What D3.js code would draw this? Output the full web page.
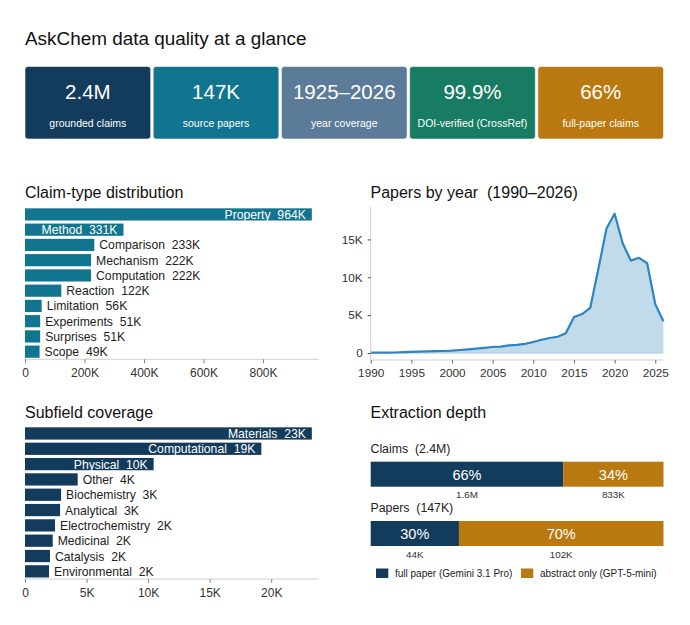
<!DOCTYPE html>
<html>
<head>
<meta charset="utf-8">
<script src="https://cdn.jsdelivr.net/npm/d3@7"></script>
<style>
  html, body { margin: 0; padding: 0; background: #fff; }
  svg { display: block; font-family: "Liberation Sans", Arial, Helvetica, sans-serif; }
  text { white-space: pre; }
</style>
</head>
<body>
<svg id="chart" width="690" height="625"></svg>
<script>
// ---------------- DATA ----------------
const cardValues = ["2.4M", "147K", "1925\u20132026", "99.9%", "66%"];
const cardLabels = ["grounded claims", "source papers", "year coverage", "DOI-verified (CrossRef)", "full-paper claims"];
const cardColors = ["#133b5c", "#12758f", "#5b7b99", "#187c63", "#b97810"];

const claimTypes = ["Property", "Method", "Comparison", "Mechanism", "Computation", "Reaction", "Limitation", "Experiments", "Surprises", "Scope"];
const claimCounts = [964000, 331000, 233000, 222000, 222000, 122000, 56000, 51000, 51000, 49000];
const claimTicks = [0, 200000, 400000, 600000, 800000];

const subfields = ["Materials", "Computational", "Physical", "Other", "Biochemistry", "Analytical", "Electrochemistry", "Medicinal", "Catalysis", "Environmental"];
const subfieldCounts = [23300, 19200, 10450, 4280, 2930, 2850, 2440, 2250, 2030, 1950];
const subfieldTicks = [0, 5000, 10000, 15000, 20000];

const years = [1990, 1991, 1992, 1993, 1994, 1995, 1996, 1997, 1998, 1999,
               2000, 2001, 2002, 2003, 2004, 2005, 2006, 2007, 2008, 2009,
               2010, 2011, 2012, 2013, 2014, 2015, 2016, 2017, 2018, 2019,
               2020, 2021, 2022, 2023, 2024, 2025, 2026];
const papersPerYear = [50, 55, 60, 70, 110, 150, 180, 210, 240, 270,
                       320, 400, 480, 570, 680, 800, 850, 1020, 1080, 1200,
                       1450, 1750, 1980, 2150, 2600, 4750, 5150, 5950, 11100, 16450,
                       18400, 14450, 12200, 12570, 11850, 6450, 4200];
const yearTicks = [1990, 1995, 2000, 2005, 2010, 2015, 2020, 2025];
const paperTicks = [0, 5000, 10000, 15000];

const depthGroups = ["Claims", "Papers"];
const depthTotals = ["2.4M", "147K"];
const fullCounts = [1600000, 44000];
const abstractCounts = [833000, 102000];
const depthLegend = ["full paper (Gemini 3.1 Pro)", "abstract only (GPT-5-mini)"];
const depthColors = ["#133b5c", "#b97810"];

// ---------------- HELPERS ----------------
const svg = d3.select("#chart");
const kFmt = v => v === 0 ? "0" : Math.round(v / 1000) + "K";
const bigFmt = v => v >= 1e6 ? (v / 1e6).toFixed(1) + "M" : Math.round(v / 1000) + "K";
const TXT = "#222";
const AXIS = "#cfcfcf";

// ---------------- TITLE ----------------
svg.append("text").attr("x", 25).attr("y", 45)
  .attr("font-size", 18.9).attr("fill", "#111")
  .text("AskChem data quality at a glance");

// ---------------- CARDS ----------------
const cx = d3.scaleBand().domain(d3.range(cardValues.length)).range([25, 663.5]).paddingInner(0.02);
const cards = svg.append("g").selectAll("g").data(cardValues).join("g")
  .attr("transform", (d, i) => `translate(${cx(i)},66.5)`);
cards.append("rect").attr("width", cx.bandwidth()).attr("height", 72.5)
  .attr("rx", 3).attr("fill", (d, i) => cardColors[i])
  .attr("stroke", "#ffffff").attr("stroke-opacity", 0.7).attr("stroke-width", 0.8);
cards.append("text").attr("x", cx.bandwidth() / 2).attr("y", 32.5)
  .attr("text-anchor", "middle").attr("font-size", 20.5).attr("fill", "#fff")
  .text(d => d);
cards.append("text").attr("x", cx.bandwidth() / 2).attr("y", 60.5)
  .attr("text-anchor", "middle").attr("font-size", 10.5).attr("fill", "#fff")
  .text((d, i) => cardLabels[i]);

// ---------------- HORIZONTAL BAR CHART ----------------
function barChart(opts) {
  const { title, titleY, cats, vals, ticks, color, yTop, yBottom } = opts;
  const g = svg.append("g");
  g.append("text").attr("x", 25).attr("y", titleY).attr("font-size", 16).attr("fill", "#111").text(title);
  const max = d3.max(vals);
  const x = d3.scaleLinear().domain([0, max * 1.025]).range([25, 319]);
  const y = d3.scaleBand().domain(cats).range([yTop, yBottom]).paddingInner(0.2).paddingOuter(0.1);
  const data = cats.map((c, i) => ({ c, v: vals[i] }));
  g.selectAll("rect.bar").data(data).join("rect").attr("class", "bar")
    .attr("x", x(0)).attr("y", d => y(d.c))
    .attr("width", d => x(d.v) - x(0)).attr("height", y.bandwidth())
    .attr("fill", color);
  const labels = g.selectAll("text.lab").data(data).join("text").attr("class", "lab")
    .attr("font-size", 12.2)
    .attr("dominant-baseline", "central")
    .attr("y", d => y(d.c) + y.bandwidth() / 2 + 0.5)
    .text(d => d.c + "  " + kFmt(d.v));
  labels.each(function (d) {
    const inside = d.v > 0.3 * max;
    const t = d3.select(this);
    if (inside) {
      t.attr("x", x(d.v) - 6).attr("text-anchor", "end").attr("fill", "#fff");
    } else {
      t.attr("x", x(d.v) + 5).attr("text-anchor", "start").attr("fill", TXT)
        .attr("stroke", "#fff").attr("stroke-width", 2.5).attr("paint-order", "stroke")
        .attr("stroke-linejoin", "round");
    }
  });
  const ax = g.append("g").attr("transform", `translate(0,${yBottom})`)
    .call(d3.axisBottom(x).tickValues(ticks).tickFormat(kFmt).tickSize(4).tickPadding(5));
  ax.select(".domain").attr("stroke", AXIS).attr("d", `M25,0H319`);
  ax.selectAll(".tick line").attr("stroke", "#888");
  ax.selectAll(".tick text").attr("font-size", 12).attr("fill", "#333")
    .attr("font-family", "Liberation Sans, Arial, sans-serif");
}

barChart({ title: "Claim-type distribution", titleY: 198, cats: claimTypes, vals: claimCounts,
  ticks: claimTicks, color: "#12758f", yTop: 206.8, yBottom: 359.3 });
barChart({ title: "Subfield coverage", titleY: 417.5, cats: subfields, vals: subfieldCounts,
  ticks: subfieldTicks, color: "#133b5c", yTop: 425.8, yBottom: 579 });

// ---------------- PAPERS BY YEAR ----------------
{
  const g = svg.append("g");
  g.append("text").attr("x", 370.5).attr("y", 198.3).attr("font-size", 16).attr("fill", "#111")
    .text("Papers by year  (1990\u20132026)");
  const maxP = d3.max(papersPerYear);
  const x = d3.scaleLinear().domain([years[0], years[years.length - 1]]).range([370.7, 663.4]);
  const y = d3.scaleLinear().domain([-0.05 * maxP, 1.05 * maxP]).range([360, 206.7]);
  const data = years.map((yr, i) => ({ yr, v: papersPerYear[i] }));
  g.append("path").datum(data)
    .attr("d", d3.area().x(d => x(d.yr)).y0(y(0)).y1(d => y(d.v)))
    .attr("fill", "#c2dbeb");
  g.append("line").attr("x1", x(years[0])).attr("x2", x(years[years.length - 1]))
    .attr("y1", y(0)).attr("y2", y(0)).attr("stroke", "#a6cbe4").attr("stroke-width", 1);
  g.append("path").datum(data)
    .attr("d", d3.line().x(d => x(d.yr)).y(d => y(d.v)))
    .attr("fill", "none").attr("stroke", "#2c85c1").attr("stroke-width", 2.2)
    .attr("stroke-linejoin", "round");
  const ax = g.append("g").attr("transform", "translate(0,360)")
    .call(d3.axisBottom(x).tickValues(yearTicks).tickFormat(d3.format("d")).tickSize(3.5).tickPadding(5));
  ax.select(".domain").attr("stroke", AXIS).attr("d", "M370.7,0H663.4");
  ax.selectAll(".tick line").attr("stroke", "#666");
  ax.selectAll(".tick text").attr("font-size", 11.8).attr("fill", "#333")
    .attr("font-family", "Liberation Sans, Arial, sans-serif");
  const ay = g.append("g").attr("transform", "translate(370.7,0)")
    .call(d3.axisLeft(y).tickValues(paperTicks).tickFormat(kFmt).tickSize(3).tickPadding(5));
  ay.select(".domain").attr("stroke", AXIS).attr("d", "M0,206.7V360");
  ay.selectAll(".tick line").attr("stroke", "#444");
  ay.selectAll(".tick text").attr("font-size", 11.8).attr("fill", "#333")
    .attr("font-family", "Liberation Sans, Arial, sans-serif");
}

// ---------------- EXTRACTION DEPTH ----------------
{
  const g = svg.append("g");
  g.append("text").attr("x", 370.5).attr("y", 417.5).attr("font-size", 16).attr("fill", "#111")
    .text("Extraction depth");
  const x = d3.scaleLinear().domain([0, 1]).range([370.7, 663.5]);
  const barTops = [461.7, 521];
  const barH = 25;
  depthGroups.forEach((grp, i) => {
    const total = fullCounts[i] + abstractCounts[i];
    const pFull = fullCounts[i] / total;
    const top = barTops[i];
    g.append("text").attr("x", 370.5).attr("y", top - 9.2).attr("font-size", 12.3).attr("fill", TXT)
      .text(grp + "  (" + depthTotals[i] + ")");
    const segs = [
      { a: 0, b: pFull, c: depthColors[0], n: fullCounts[i], p: pFull },
      { a: pFull, b: 1, c: depthColors[1], n: abstractCounts[i], p: 1 - pFull }
    ];
    segs.forEach(s => {
      g.append("rect").attr("x", x(s.a)).attr("y", top).attr("width", x(s.b) - x(s.a)).attr("height", barH)
        .attr("fill", s.c);
      const mid = (x(s.a) + x(s.b)) / 2;
      g.append("text").attr("x", mid).attr("y", top + barH / 2 + 0.5)
        .attr("dominant-baseline", "central").attr("text-anchor", "middle")
        .attr("font-size", 14.5).attr("fill", "#fff").text(Math.round(s.p * 100) + "%");
      g.append("text").attr("x", mid).attr("y", top + barH + 11.5)
        .attr("text-anchor", "middle").attr("font-size", 9.8).attr("fill", "#333")
        .text(bigFmt(s.n));
    });
  });
  const legX = [376, 521];
  depthLegend.forEach((lab, i) => {
    g.append("rect").attr("x", legX[i]).attr("y", 568.5).attr("width", 12.3).attr("height", 9.5)
      .attr("fill", depthColors[i]);
    g.append("text").attr("x", legX[i] + 19).attr("y", 573.5).attr("dominant-baseline", "central")
      .attr("font-size", 10).attr("fill", TXT).text(lab);
  });
}
</script>
</body>
</html>
